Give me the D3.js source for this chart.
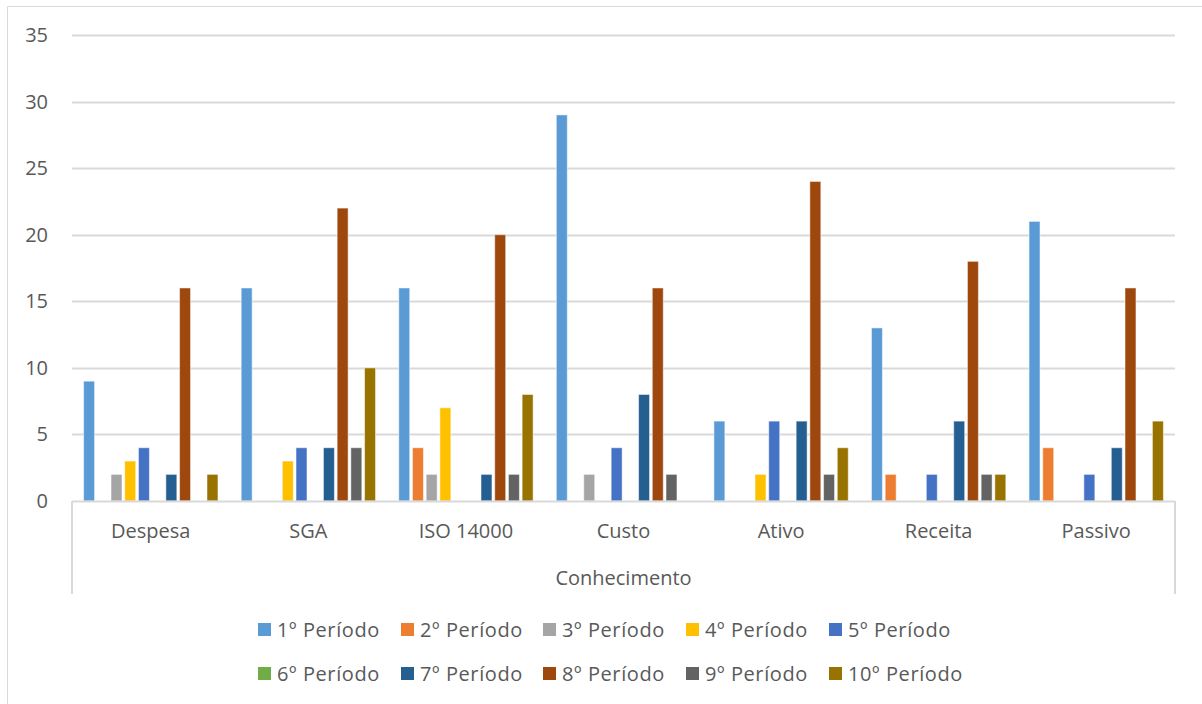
<!DOCTYPE html>
<html><head><meta charset="utf-8">
<script src="https://cdn.jsdelivr.net/npm/d3@7"></script>
<style>
html,body{margin:0;padding:0;background:#fff;}
svg text{font-family:"Open Sans","Noto Sans",sans-serif;fill:#595959;}
</style></head>
<body><svg id="c" width="1202" height="704"></svg>
<script>
const categories = ["Despesa","SGA","ISO 14000","Custo","Ativo","Receita","Passivo"];
const seriesNames = ["1º Período","2º Período","3º Período","4º Período","5º Período","6º Período","7º Período","8º Período","9º Período","10º Período"];
const seriesColors = ["#5B9BD5","#ED7D31","#A5A5A5","#FFC000","#4472C4","#70AD47","#255E91","#9E480E","#636363","#997300"];
// values[series][category]
const p1  = [9,16,16,29,6,13,21];
const p2  = [0,0,4,0,0,2,4];
const p3  = [2,0,2,2,0,0,0];
const p4  = [3,3,7,0,2,0,0];
const p5  = [4,4,0,4,6,2,2];
const p6  = [0,0,0,0,0,0,0];
const p7  = [2,4,2,8,6,6,4];
const p8  = [16,22,20,16,24,18,16];
const p9  = [0,4,2,2,2,2,0];
const p10 = [2,10,8,0,4,2,6];
const values = [p1,p2,p3,p4,p5,p6,p7,p8,p9,p10];
const yTicks = [0,5,10,15,20,25,30,35];
const axisTitle = "Conhecimento";

const svg = d3.select("#c");
const L = 72, R = 1175, T = 35, B = 501;
const grid = "#d9d9d9";

// outer frame (chart area border)
svg.append("line").attr("x1",7.5).attr("x2",1202).attr("y1",6.5).attr("y2",6.5).attr("stroke",grid);
svg.append("line").attr("x1",7.5).attr("x2",7.5).attr("y1",6.5).attr("y2",704).attr("stroke",grid);

const y = d3.scaleLinear().domain([0,35]).range([B,T]);
const x0 = d3.scaleBand().domain(categories).range([L,R]).paddingInner(0.13).paddingOuter(0.065);
const x1 = d3.scaleBand().domain(seriesNames).range([0,x0.bandwidth()]).paddingInner(0.2).paddingOuter(0.1);

// gridlines
svg.append("g").selectAll("line").data(yTicks.filter(d=>d>0)).join("line")
  .attr("x1",L).attr("x2",R).attr("y1",d=>Math.round(y(d))+0.5).attr("y2",d=>Math.round(y(d))+0.5)
  .attr("stroke",grid).attr("stroke-width",2);

// y tick labels
svg.append("g").selectAll("text").data(yTicks).join("text")
  .attr("x",48).attr("y",d=>y(d)).attr("dy","0.35em").attr("text-anchor","end")
  .attr("font-size",20).text(d=>d);

// bars
const flat = [];
values.forEach((arr,si)=>arr.forEach((v,ci)=>flat.push({s:si,c:ci,v})));
svg.append("g").selectAll("rect").data(flat.filter(d=>d.v>0)).join("rect")
  .attr("x",d=>x0(categories[d.c])+x1(seriesNames[d.s]))
  .attr("y",d=>y(d.v))
  .attr("width",x1.bandwidth())
  .attr("height",d=>y(0)-y(d.v))
  .attr("fill",d=>seriesColors[d.s])
  .attr("stroke","#ffffff").attr("stroke-opacity",0.5).attr("stroke-width",1);

// category axis baseline and multi-level box
svg.append("line").attr("x1",L).attr("x2",R).attr("y1",B+0.5).attr("y2",B+0.5).attr("stroke",grid).attr("stroke-width",2);
svg.append("line").attr("x1",L).attr("x2",L).attr("y1",B).attr("y2",594).attr("stroke",grid).attr("stroke-width",2);
svg.append("line").attr("x1",R).attr("x2",R).attr("y1",B).attr("y2",594).attr("stroke",grid).attr("stroke-width",2);

svg.append("g").selectAll("text").data(categories).join("text")
  .attr("x",d=>x0(d)+x0.bandwidth()/2).attr("y",531).attr("dy","0.35em")
  .attr("text-anchor","middle").attr("font-size",20).text(d=>d);

svg.append("text").attr("x",(L+R)/2).attr("y",578).attr("dy","0.35em")
  .attr("text-anchor","middle").attr("font-size",20).text(axisTitle);

// legend
const legX = [258,401,543,686,829];
const legY = [630,674];
const lg = svg.append("g").selectAll("g").data(seriesNames).join("g")
  .attr("transform",(d,i)=>`translate(${legX[i%5]},${legY[Math.floor(i/5)]})`);
lg.append("rect").attr("x",0).attr("y",-7).attr("width",13).attr("height",13).attr("fill",(d,i)=>seriesColors[i]);
lg.append("text").attr("x",19).attr("y",0).attr("dy","0.35em").attr("font-size",20).attr("letter-spacing",0.6).text(d=>d);
</script></body></html>
